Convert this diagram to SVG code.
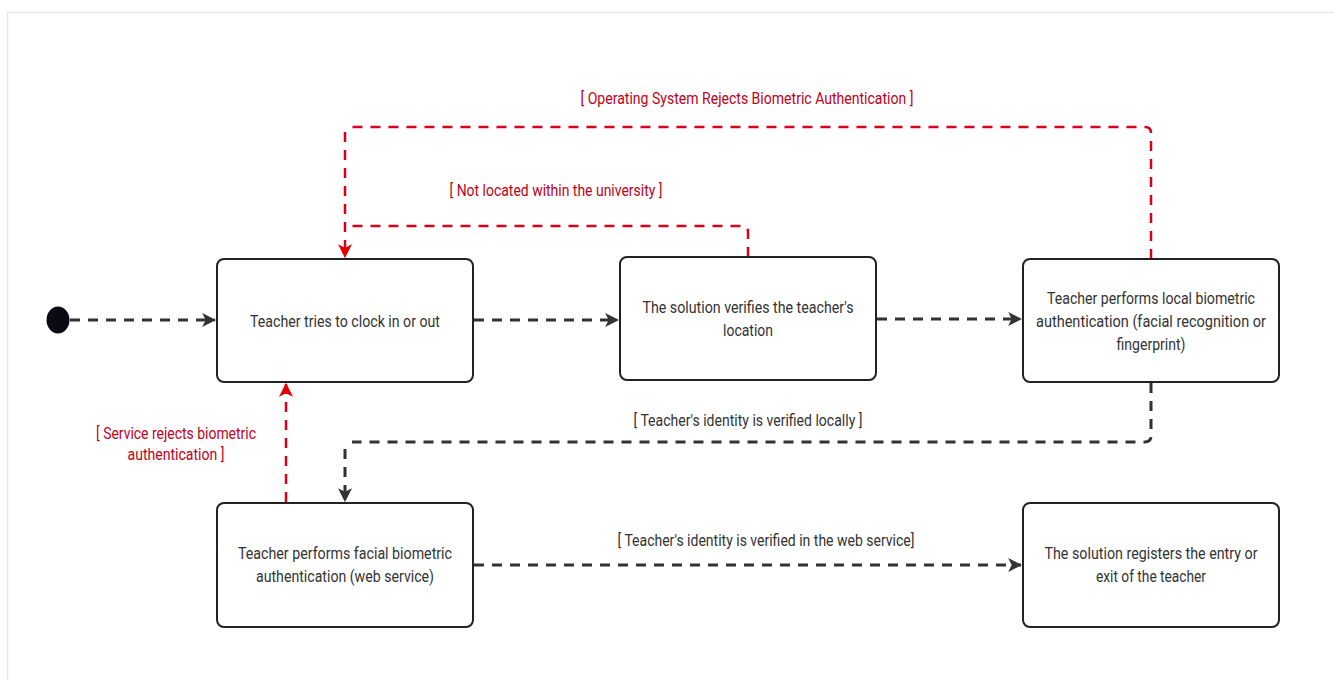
<svg xmlns="http://www.w3.org/2000/svg" width="1334" height="680" viewBox="0 0 1334 680">
<defs>
<marker id="ad" viewBox="0 0 12 12" refX="11" refY="6" markerWidth="14" markerHeight="14" markerUnits="userSpaceOnUse" orient="auto">
<path d="M0,0 L12,6 L0,12 L3,6 Z" fill="#333"/>
</marker>
<marker id="ar" viewBox="0 0 12 12" refX="11" refY="6" markerWidth="14" markerHeight="14" markerUnits="userSpaceOnUse" orient="auto">
<path d="M0,0 L12,6 L0,12 L3,6 Z" fill="#e00000"/>
</marker>
</defs>
<style>
.node rect{fill:#fff;stroke:#222;stroke-width:2}
.node text{font-family:Roboto,"Liberation Sans",sans-serif;font-size:16px;fill:#333;text-anchor:middle}
.dk{fill:none;stroke:#333;stroke-width:3;stroke-dasharray:10 8}
.rd{fill:none;stroke:#d9001b;stroke-width:2.5;stroke-dasharray:10 8}
.lbl{font-family:Roboto,"Liberation Sans",sans-serif;font-size:16px;text-anchor:middle}
.lr{fill:#c0001a}
.lk{fill:#333}
</style>
<rect x="0" y="0" width="1334" height="680" fill="#fff"/>
<path d="M7.5,680 V12.5 H1334" fill="none" stroke="#e8e8e8" stroke-width="1.5"/>
<ellipse id="start" cx="58" cy="320" rx="11.5" ry="13.5" fill="#0a0a14"/>
<g id="connectors">
<path class="dk" d="M70,320 H215" marker-end="url(#ad)"/>
<path class="dk" d="M474,320 H618" marker-end="url(#ad)"/>
<path class="dk" d="M877,319 H1021" marker-end="url(#ad)"/>
<path class="rd" d="M748,257 V232 Q748,226 742,226 H352" />
<path class="rd" d="M1151,259 V133 Q1151,127 1145,127 H352"/>
<path class="rd" d="M345,132 V257" marker-end="url(#ar)"/>
<path class="dk" d="M1151,383 V436 Q1151,442 1145,442 H352"/>
<path class="dk" d="M345,449 V501" marker-end="url(#ad)"/>
<path class="rd" d="M286,502 V384" marker-end="url(#ar)"/>
<path class="dk" d="M474,565 H1021" marker-end="url(#ad)"/>
<text class="lbl lr" x="747" y="104" textLength="333" lengthAdjust="spacingAndGlyphs">[ Operating System Rejects Biometric Authentication ]</text>
<text class="lbl lr" x="556" y="196" textLength="213" lengthAdjust="spacingAndGlyphs">[ Not located within the university ]</text>
<text class="lbl lk" x="748" y="426" textLength="229" lengthAdjust="spacingAndGlyphs">[ Teacher's identity is verified locally ]</text>
<text class="lbl lr" x="176" y="439" textLength="160" lengthAdjust="spacingAndGlyphs">[ Service rejects biometric</text>
<text class="lbl lr" x="176" y="460" textLength="97" lengthAdjust="spacingAndGlyphs">authentication ]</text>
<text class="lbl lk" x="766" y="546" textLength="297" lengthAdjust="spacingAndGlyphs">[ Teacher's identity is verified in the web service]</text>
</g>
<g id="n1" class="node">
<rect x="217" y="259" width="256" height="123" rx="7"/>
<text x="345" y="327" textLength="190" lengthAdjust="spacingAndGlyphs">Teacher tries to clock in or out</text>
</g>
<g id="n2" class="node">
<rect x="620" y="257" width="256" height="123" rx="7"/>
<text x="748" y="313" textLength="211" lengthAdjust="spacingAndGlyphs">The solution verifies the teacher's</text>
<text x="748" y="336" textLength="50" lengthAdjust="spacingAndGlyphs">location</text>
</g>
<g id="n3" class="node">
<rect x="1023" y="259" width="256" height="123" rx="7"/>
<text x="1151" y="304" textLength="208" lengthAdjust="spacingAndGlyphs">Teacher performs local biometric</text>
<text x="1151" y="327" textLength="230" lengthAdjust="spacingAndGlyphs">authentication (facial recognition or</text>
<text x="1151" y="350" textLength="69" lengthAdjust="spacingAndGlyphs">fingerprint)</text>
</g>
<g id="n4" class="node">
<rect x="217" y="503" width="256" height="124" rx="7"/>
<text x="345" y="559" textLength="214" lengthAdjust="spacingAndGlyphs">Teacher performs facial biometric</text>
<text x="345" y="582" textLength="178" lengthAdjust="spacingAndGlyphs">authentication (web service)</text>
</g>
<g id="n5" class="node">
<rect x="1023" y="503" width="256" height="124" rx="7"/>
<text x="1151" y="559" textLength="213" lengthAdjust="spacingAndGlyphs">The solution registers the entry or</text>
<text x="1151" y="582" textLength="110" lengthAdjust="spacingAndGlyphs">exit of the teacher</text>
</g>
</svg>
